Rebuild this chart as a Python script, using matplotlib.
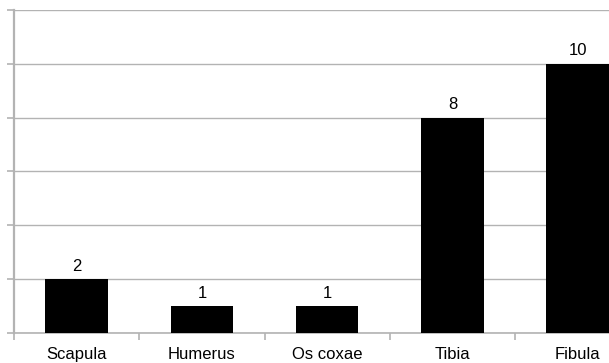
import numpy as np
import matplotlib
matplotlib.use('Agg')
import matplotlib.pyplot as plt

bones = ['Scapula', 'Humerus', 'Os coxae', 'Tibia', 'Fibula']
counts = [2, 1, 1, 8, 10]

plt.rcParams['font.family'] = ['Liberation Sans', 'DejaVu Sans']
grey = '#b3b3b3'

fig = plt.figure(figsize=(6.09, 3.63), dpi=100)
ax = fig.add_axes([0.023, 0.0826, 0.977, 0.8899])

x = np.arange(len(bones))
bars = ax.bar(x, counts, width=0.5, color='black', zorder=3)
for xi, c in zip(x, counts):
    ax.text(xi, c + 0.2, str(c), ha='center', va='bottom', fontsize=12)

ax.set_yticks(np.arange(0, 13, 2))
ax.set_yticklabels([])
ax.yaxis.grid(True, color=grey, linewidth=1, zorder=0)

ax.set_xticks(x)
ax.set_xticklabels(bones, fontsize=12)
ax.set_xticks(np.arange(-0.5, 4.6, 1), minor=True)
ax.tick_params(axis='x', which='major', length=0, pad=10)
ax.tick_params(axis='x', which='minor', length=5, color=grey, width=1.2)
ax.tick_params(axis='y', length=5, color=grey, width=1.2)
# ticks can widen the view, so set the limits last
ax.set_xlim(-0.5, 4.25)
ax.set_ylim(0, 12)

for s in ['top', 'right']:
    ax.spines[s].set_visible(False)
ax.spines['left'].set_color(grey)
ax.spines['left'].set_linewidth(1.6)
ax.spines['bottom'].set_color(grey)
ax.spines['bottom'].set_linewidth(1.2)

fig.savefig('out.png', dpi=100)
